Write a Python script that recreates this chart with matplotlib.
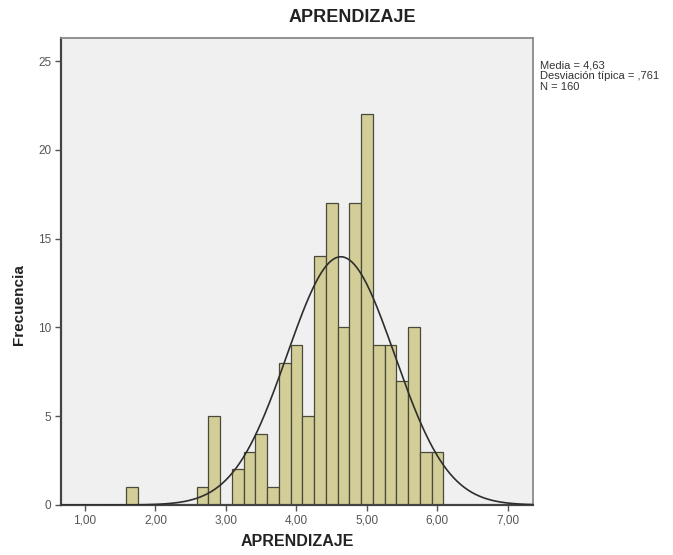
import numpy as np
import matplotlib
matplotlib.use("Agg")
import matplotlib.pyplot as plt

plt.rcParams['font.family'] = ['Liberation Sans', 'DejaVu Sans']

# Data
bin_centers = [1.667, 2.667, 2.833, 3.167, 3.333, 3.5, 3.667, 3.833, 4.0, 4.167,
               4.333, 4.5, 4.667, 4.833, 5.0, 5.167, 5.333, 5.5, 5.667, 5.833, 6.0]
counts = [1, 1, 5, 2, 3, 4, 1, 8, 9, 5, 14, 17, 10, 17, 22, 9, 9, 7, 10, 3, 3]
bin_width = 1 / 6
mean_val = 4.63
sd_val = 0.761
n_val = 160
x_ticks = [1, 2, 3, 4, 5, 6, 7]
x_tick_labels = ["1,00", "2,00", "3,00", "4,00", "5,00", "6,00", "7,00"]
y_ticks = [0, 5, 10, 15, 20, 25]
y_tick_labels = ["0", "5", "10", "15", "20", "25"]

fig = plt.figure(figsize=(6.73, 5.55), dpi=100)
fig.patch.set_facecolor('white')
ax = fig.add_axes([0.0906, 0.0901, 0.7013, 0.8414])
ax.set_facecolor('#F0F0F0')

ax.bar(bin_centers, counts, width=bin_width, color='#D3CE97',
       edgecolor='#4a4a3a', linewidth=0.9, zorder=2)

xs = np.linspace(0.66, 7.36, 400)
pdf = n_val * bin_width / (sd_val * np.sqrt(2 * np.pi)) * np.exp(-0.5 * ((xs - mean_val) / sd_val) ** 2)
ax.plot(xs, pdf, color='#2e2e2e', linewidth=1.2, zorder=3)

ax.set_xlim(0.66, 7.355)
ax.set_ylim(0, 26.3)
ax.set_xticks(x_ticks)
ax.set_xticklabels(x_tick_labels)
ax.set_yticks(y_ticks)
ax.set_yticklabels(y_tick_labels)
ax.tick_params(axis='both', direction='out', length=4, width=1, color='#555555',
               labelcolor='#555555', labelsize=8.5, pad=3)

for side in ['top', 'right']:
    ax.spines[side].set_color('#8a8a8a')
    ax.spines[side].set_linewidth(1.3)
for side in ['left', 'bottom']:
    ax.spines[side].set_color('#444444')
    ax.spines[side].set_linewidth(1.6)

fig.text(352 / 673, 1 - 18 / 555, "APRENDIZAJE", ha='center', va='center',
         fontsize=13, fontweight='bold', color='#222222')
fig.text(297 / 673, 1 - 541 / 555, "APRENDIZAJE", ha='center', va='center',
         fontsize=11.5, fontweight='bold', color='#222222')
fig.text(19 / 673, 1 - 305 / 555, "Frecuencia", ha='center', va='center',
         rotation=90, fontsize=11, fontweight='bold', color='#222222')

fig.text(540 / 673, 1 - 61 / 555,
         "Media = 4,63\nDesviación típica = ,761\nN = 160",
         ha='left', va='top', fontsize=8, color='#333333', linespacing=1.05)

fig.savefig('out.png', dpi=100, facecolor='white')
